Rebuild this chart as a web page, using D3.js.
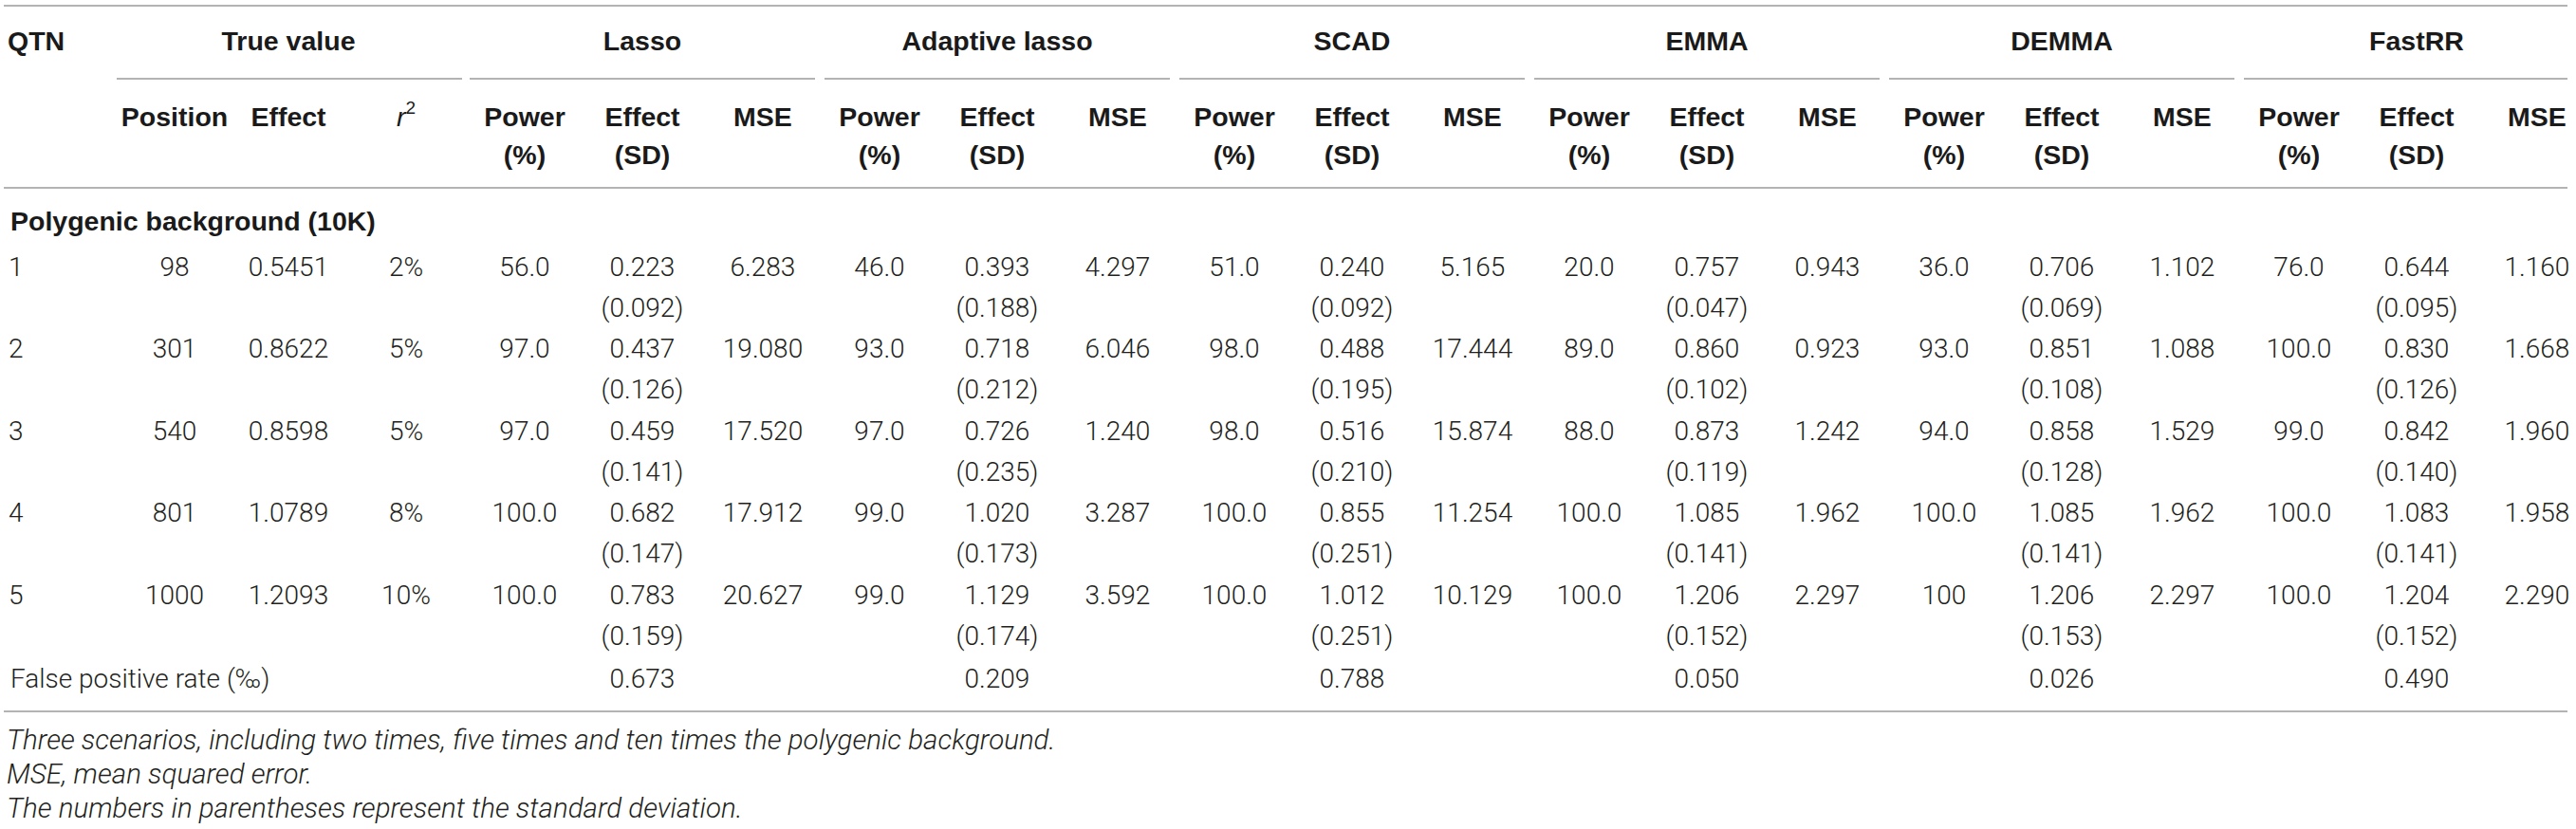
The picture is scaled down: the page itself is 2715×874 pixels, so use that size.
<!DOCTYPE html>
<html>
<head>
<meta charset="utf-8">
<script src="https://cdn.jsdelivr.net/npm/d3@7/dist/d3.min.js"></script>
<style>
  html, body { margin: 0; padding: 0; background: #fff; }
  svg { display: block; }
  .hd { font-family: "Liberation Sans", Arial, sans-serif; font-weight: bold; font-size: 28.5px; fill: #1a1a1a; }
  .bd { font-family: Roboto, "Liberation Sans", sans-serif; font-weight: 300; font-size: 28px; fill: #231f20; }
  .fn { font-family: Roboto, "Liberation Sans", sans-serif; font-weight: 300; font-style: italic; font-size: 29.5px; fill: #231f20; }
</style>
</head>
<body>
<svg id="chart" width="2715" height="874"></svg>
<script>
// ---------- data ----------
const qtn = ["1", "2", "3", "4", "5"];
const positions = ["98", "301", "540", "801", "1000"];
const trueEffect = ["0.5451", "0.8622", "0.8598", "1.0789", "1.2093"];
const r2 = ["2%", "5%", "5%", "8%", "10%"];
const methods = ["Lasso", "Adaptive lasso", "SCAD", "EMMA", "DEMMA", "FastRR"];
const power = [
  ["56.0", "97.0", "97.0", "100.0", "100.0"],
  ["46.0", "93.0", "97.0", "99.0", "99.0"],
  ["51.0", "98.0", "98.0", "100.0", "100.0"],
  ["20.0", "89.0", "88.0", "100.0", "100.0"],
  ["36.0", "93.0", "94.0", "100.0", "100"],
  ["76.0", "100.0", "99.0", "100.0", "100.0"]
];
const effect = [
  ["0.223", "0.437", "0.459", "0.682", "0.783"],
  ["0.393", "0.718", "0.726", "1.020", "1.129"],
  ["0.240", "0.488", "0.516", "0.855", "1.012"],
  ["0.757", "0.860", "0.873", "1.085", "1.206"],
  ["0.706", "0.851", "0.858", "1.085", "1.206"],
  ["0.644", "0.830", "0.842", "1.083", "1.204"]
];
const sd = [
  ["0.092", "0.126", "0.141", "0.147", "0.159"],
  ["0.188", "0.212", "0.235", "0.173", "0.174"],
  ["0.092", "0.195", "0.210", "0.251", "0.251"],
  ["0.047", "0.102", "0.119", "0.141", "0.152"],
  ["0.069", "0.108", "0.128", "0.141", "0.153"],
  ["0.095", "0.126", "0.140", "0.141", "0.152"]
];
const mse = [
  ["6.283", "19.080", "17.520", "17.912", "20.627"],
  ["4.297", "6.046", "1.240", "3.287", "3.592"],
  ["5.165", "17.444", "15.874", "11.254", "10.129"],
  ["0.943", "0.923", "1.242", "1.962", "2.297"],
  ["1.102", "1.088", "1.529", "1.962", "2.297"],
  ["1.160", "1.668", "1.960", "1.958", "2.290"]
];
const fpr = ["0.673", "0.209", "0.788", "0.050", "0.026", "0.490"];
const trueCols = ["Position", "Effect", "r2"];
const footnotes = [
  "Three scenarios, including two times, five times and ten times the polygenic background.",
  "MSE, mean squared error.",
  "The numbers in parentheses represent the standard deviation."
];

// ---------- layout ----------
const svg = d3.select("#chart");
const left = 4, right = 2706;
const lineColor = "#b3b3b3";

// method group centre (Effect column) scale
const gx = d3.scaleLinear().domain([0, methods.length - 1]).range([677, 2547]);
const subOff = { power: -124, effect: 0, mse: 127 };
// true-value columns
const tx = d3.scaleOrdinal().domain(trueCols).range([184, 304, 428]);
// row scale
const ry = d3.scaleLinear().domain([0, qtn.length - 1]).range([281, 627]);
const sdOff = 43;

const y = { top: 6, group: 43, sub: 83, h1: 123, h2: 163, hline: 198, section: 233, fpr: 715, bottom: 750 };

function hline(x1, x2, yy) {
  svg.append("line").attr("x1", x1).attr("x2", x2).attr("y1", yy).attr("y2", yy)
    .attr("stroke", lineColor).attr("stroke-width", 2);
}
function txt(cls, x, yy, s, anchor) {
  return svg.append("text").attr("class", cls).attr("x", x).attr("y", yy)
    .attr("dominant-baseline", "central").attr("text-anchor", anchor || "middle").text(s);
}

// rules
hline(left, right, y.top);
hline(left, right, y.hline);
hline(left, right, y.bottom);
hline(123, 487, y.sub);
methods.forEach((m, i) => {
  hline(gx(i) - 182, Math.min(gx(i) + 182, right), y.sub);
});

// group headers
txt("hd", 8, y.group, "QTN", "start");
txt("hd", tx("Effect"), y.group, "True value");
methods.forEach((m, i) => txt("hd", gx(i), y.group, m));

// sub headers
txt("hd", tx("Position"), y.h1, "Position");
txt("hd", tx("Effect"), y.h1, "Effect");
const r2t = txt("hd", tx("r2"), y.h1, "");
r2t.append("tspan").attr("font-style", "italic").attr("font-weight", "normal").text("r");
r2t.append("tspan").attr("font-size", "19px").attr("font-weight", "normal").attr("dy", -10).text("2");

methods.forEach((m, i) => {
  txt("hd", gx(i) + subOff.power, y.h1, "Power");
  txt("hd", gx(i) + subOff.power, y.h2, "(%)");
  txt("hd", gx(i) + subOff.effect, y.h1, "Effect");
  txt("hd", gx(i) + subOff.effect, y.h2, "(SD)");
  txt("hd", gx(i) + subOff.mse, y.h1, "MSE");
});

// section title
txt("hd", 11, y.section, "Polygenic background (10K)", "start");

// body rows
qtn.forEach((q, r) => {
  const yy = ry(r);
  txt("bd", 9, yy, q, "start");
  txt("bd", tx("Position"), yy, positions[r]);
  txt("bd", tx("Effect"), yy, trueEffect[r]);
  txt("bd", tx("r2"), yy, r2[r]);
  methods.forEach((m, i) => {
    txt("bd", gx(i) + subOff.power, yy, power[i][r]);
    txt("bd", gx(i) + subOff.effect, yy, effect[i][r]);
    txt("bd", gx(i) + subOff.effect, yy + sdOff, "(" + sd[i][r] + ")");
    txt("bd", gx(i) + subOff.mse, yy, mse[i][r]);
  });
});

// false positive rate row
txt("bd", 11, y.fpr, "False positive rate (‰)", "start");
methods.forEach((m, i) => txt("bd", gx(i) + subOff.effect, y.fpr, fpr[i]));

// footnotes
footnotes.forEach((f, i) => txt("fn", 7, 780 + i * 36, f, "start"));
</script>
</body>
</html>
